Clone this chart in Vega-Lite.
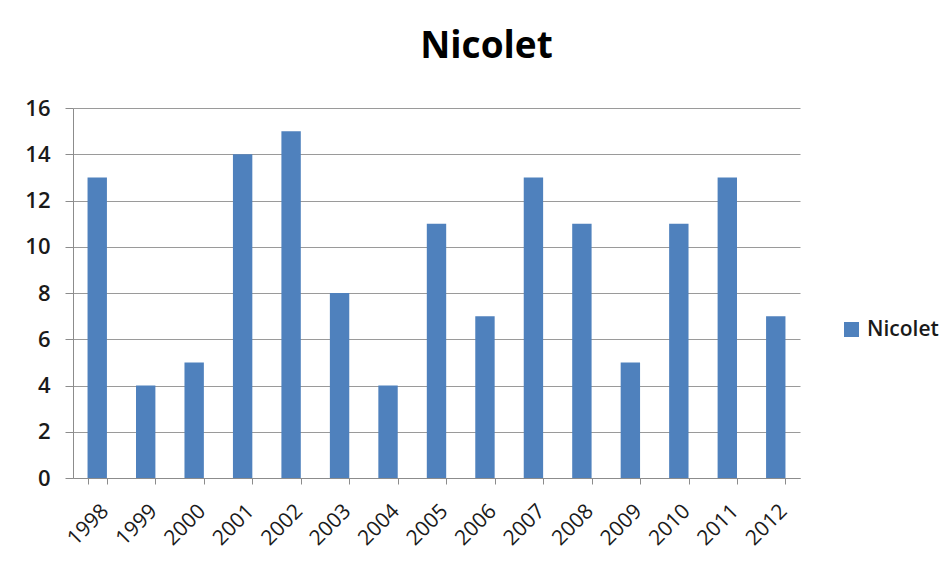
{
  "$schema": "https://vega.github.io/schema/vega-lite/v6.json",
  "width": 727,
  "height": 370,
  "autosize": "none",
  "padding": {"left": 73, "top": 108, "right": 151, "bottom": 90},
  "background": "white",
  "title": {
    "text": "Nicolet",
    "font": "Open Sans",
    "fontSize": 37,
    "fontWeight": "bold",
    "color": "#000000",
    "anchor": "middle",
    "dx": 50,
    "offset": 31
  },
  "data": {
    "values": [
      {"year": "1998", "value": 13, "series": "Nicolet"},
      {"year": "1999", "value": 4, "series": "Nicolet"},
      {"year": "2000", "value": 5, "series": "Nicolet"},
      {"year": "2001", "value": 14, "series": "Nicolet"},
      {"year": "2002", "value": 15, "series": "Nicolet"},
      {"year": "2003", "value": 8, "series": "Nicolet"},
      {"year": "2004", "value": 4, "series": "Nicolet"},
      {"year": "2005", "value": 11, "series": "Nicolet"},
      {"year": "2006", "value": 7, "series": "Nicolet"},
      {"year": "2007", "value": 13, "series": "Nicolet"},
      {"year": "2008", "value": 11, "series": "Nicolet"},
      {"year": "2009", "value": 5, "series": "Nicolet"},
      {"year": "2010", "value": 11, "series": "Nicolet"},
      {"year": "2011", "value": 13, "series": "Nicolet"},
      {"year": "2012", "value": 7, "series": "Nicolet"}
    ]
  },
  "mark": {"type": "bar"},
  "encoding": {
    "x": {
      "field": "year",
      "type": "nominal",
      "scale": {"paddingInner": 0.6, "paddingOuter": 0.3},
      "axis": {
        "title": null,
        "labelAngle": -45,
        "labelFont": "Open Sans",
        "labelFontSize": 21,
        "labelColor": "#1a1a1a",
        "labelPadding": 16,
        "domainColor": "#8c8c8c",
        "tickColor": "#8c8c8c",
        "tickSize": 6,
        "tickBand": "extent",
        "grid": false
      }
    },
    "y": {
      "field": "value",
      "type": "quantitative",
      "scale": {"domain": [0, 16]},
      "axis": {
        "title": null,
        "values": [0, 2, 4, 6, 8, 10, 12, 14, 16],
        "labelFont": "Open Sans",
        "labelFontSize": 22,
        "labelFontWeight": 600,
        "labelColor": "#1a1a1a",
        "labelPadding": 15,
        "domainColor": "#8c8c8c",
        "tickColor": "#8c8c8c",
        "tickSize": 8,
        "gridColor": "#9a9a9a",
        "gridWidth": 1.2
      }
    },
    "color": {
      "field": "series",
      "type": "nominal",
      "scale": {"range": ["#4F81BD"]},
      "legend": {
        "title": null,
        "orient": "none",
        "legendX": 768,
        "legendY": 211,
        "symbolType": "square",
        "symbolSize": 225,
        "labelFont": "Open Sans",
        "labelFontSize": 21,
        "labelFontWeight": 600,
        "labelColor": "#1a1a1a",
        "labelOffset": 5
      }
    }
  },
  "config": {
    "view": {"stroke": null}
  }
}
